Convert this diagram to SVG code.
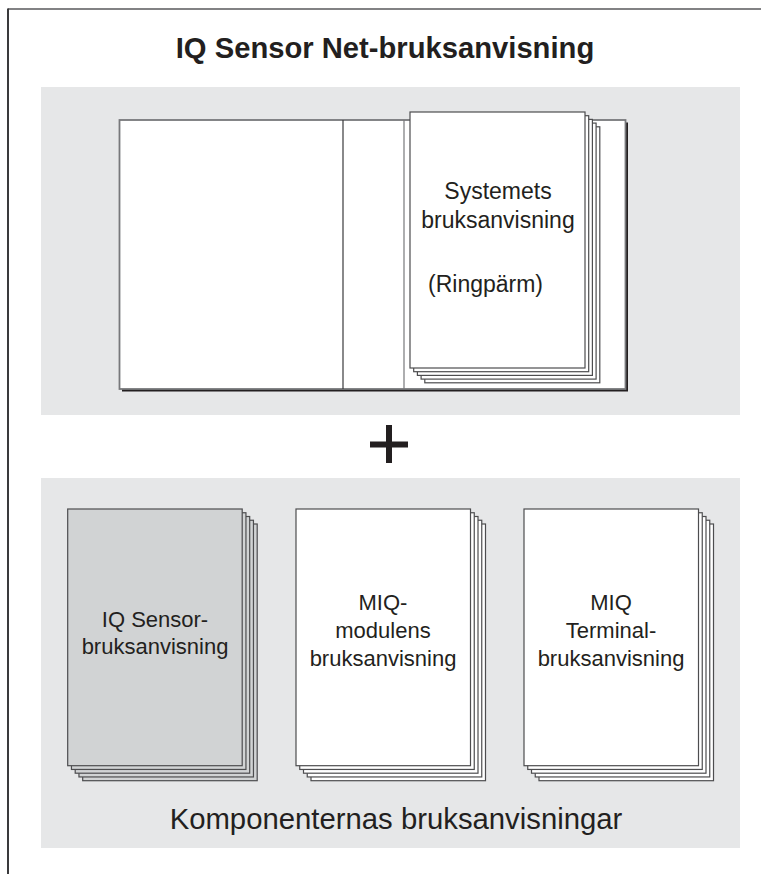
<svg xmlns="http://www.w3.org/2000/svg" width="761" height="874" viewBox="0 0 761 874">
<style>
text{font-family:"Liberation Sans",Arial,sans-serif;fill:#231f20}
.lbl{font-size:22px;text-anchor:middle}
.tl{font-size:23px}
.sheet{fill:#fff;stroke:#4d4d4f;stroke-width:1.2}
.gsheet{fill:#d1d3d4;stroke:#4d4d4f;stroke-width:1.2}
.panel{fill:#e6e7e8}
</style>
<rect width="761" height="874" fill="#fff"/>
<g id="frame">
<line x1="8" y1="9" x2="761" y2="9" stroke="#58595b" stroke-width="1.6"/>
<line x1="8" y1="8.5" x2="8" y2="874" stroke="#3a3a3c" stroke-width="2"/>
</g>
<text id="title" x="385" y="58" font-size="29.2" font-weight="bold" text-anchor="middle">IQ Sensor Net-bruksanvisning</text>
<g id="top-panel">
<rect class="panel" x="41" y="87" width="699" height="328"/>
</g>
<g id="binder">
<rect x="122" y="122.5" width="506" height="269" fill="#231f20"/>
<rect x="119.5" y="120" width="506" height="269" fill="#fff" stroke="#77787b" stroke-width="1.8"/>
<line x1="343" y1="120" x2="343" y2="389" stroke="#3a3a3c" stroke-width="1.2"/>
<line x1="404" y1="120" x2="404" y2="389" stroke="#77787b" stroke-width="1.2"/>
</g>
<g id="system-manual">
<rect class="sheet" x="424.8" y="126.8" width="175" height="256"/>
<rect class="sheet" x="421.1" y="123.1" width="175" height="256"/>
<rect class="sheet" x="417.4" y="119.4" width="175" height="256"/>
<rect class="sheet" x="413.7" y="115.7" width="175" height="256"/>
<rect class="sheet" x="410" y="112" width="175" height="256"/>
<text class="lbl tl" x="498" y="199">Systemets</text>
<text class="lbl tl" x="498" y="227.5">bruksanvisning</text>
<text class="tl" x="428" y="292">(Ringpärm)</text>
</g>
<g id="plus" fill="#231f20">
<rect x="386" y="425" width="6" height="38"/>
<rect x="370" y="441.5" width="38" height="6"/>
</g>
<g id="bottom-panel">
<rect class="panel" x="41" y="478" width="699" height="370"/>
</g>
<g id="iq-sensor-manual">
<rect class="gsheet" x="82.7" y="524" width="174.5" height="256.7"/>
<rect class="gsheet" x="78.95" y="520.25" width="174.5" height="256.7"/>
<rect class="gsheet" x="75.2" y="516.5" width="174.5" height="256.7"/>
<rect class="gsheet" x="71.45" y="512.75" width="174.5" height="256.7"/>
<rect class="gsheet" x="67.7" y="509" width="174.5" height="256.7"/>
<text class="lbl" x="155" y="627">IQ Sensor-</text>
<text class="lbl" x="155" y="654">bruksanvisning</text>
</g>
<g id="miq-module-manual">
<rect class="sheet" x="311" y="524" width="174.5" height="256.7"/>
<rect class="sheet" x="307.25" y="520.25" width="174.5" height="256.7"/>
<rect class="sheet" x="303.5" y="516.5" width="174.5" height="256.7"/>
<rect class="sheet" x="299.75" y="512.75" width="174.5" height="256.7"/>
<rect class="sheet" x="296" y="509" width="174.5" height="256.7"/>
<text class="lbl" x="383" y="610">MIQ-</text>
<text class="lbl" x="383" y="638">modulens</text>
<text class="lbl" x="383" y="666">bruksanvisning</text>
</g>
<g id="miq-terminal-manual">
<rect class="sheet" x="539" y="524" width="174.5" height="256.7"/>
<rect class="sheet" x="535.25" y="520.25" width="174.5" height="256.7"/>
<rect class="sheet" x="531.5" y="516.5" width="174.5" height="256.7"/>
<rect class="sheet" x="527.75" y="512.75" width="174.5" height="256.7"/>
<rect class="sheet" x="524" y="509" width="174.5" height="256.7"/>
<text class="lbl" x="611" y="610">MIQ</text>
<text class="lbl" x="611" y="638">Terminal-</text>
<text class="lbl" x="611" y="666">bruksanvisning</text>
</g>
<text id="caption" x="396" y="829" font-size="29.3" text-anchor="middle">Komponenternas bruksanvisningar</text>
</svg>
